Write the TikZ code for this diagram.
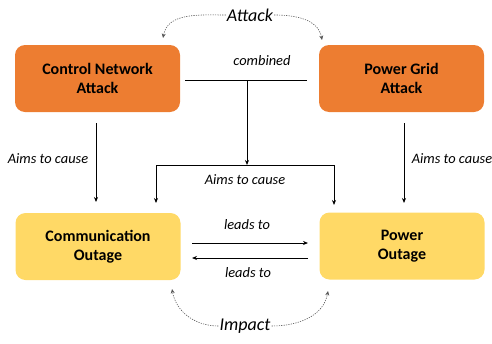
\documentclass[tikz,border=0pt]{standalone}
\usepackage{fontspec}
\setmainfont{Carlito}
\usetikzlibrary{arrows.meta}
\definecolor{attackorange}{HTML}{ED7D31}
\definecolor{outageyellow}{HTML}{FFD966}
\tikzset{
  attackbox/.style={fill=attackorange, rounded corners=10pt, minimum width=165pt, minimum height=67pt,
    align=center, font=\fontsize{16}{19.5}\selectfont\bfseries, inner sep=0pt},
  outagebox/.style={attackbox, fill=outageyellow},
  flow/.style={line width=0.8pt, -{Stealth[length=5pt,width=4pt]}},
  plain/.style={line width=0.8pt},
  lbl/.style={font=\fontsize{14.4}{17}\selectfont\itshape, inner sep=1pt},
  biglbl/.style={font=\fontsize{18}{21}\selectfont\itshape, inner sep=1pt},
  hint/.style={dash pattern=on 1.2pt off 1.2pt, gray!70!black, line width=0.6pt,
    -{Stealth[length=4.5pt,width=4pt]}}
}
\begin{document}
\begin{tikzpicture}[x=1pt,y=-1pt]
  \useasboundingbox (0,0) rectangle (492,343);

  % boxes
  \node[attackbox] (cna) at (97.5,78.5) {Control Network\\Attack};
  \node[attackbox] (pga) at (401.5,78.5) {Power Grid\\Attack};
  \node[outagebox] (co) at (98,246.5) {Communication\\Outage};
  \node[outagebox] (po) at (402,246) {Power\\Outage};

  % labels
  \node[biglbl] (attack) at (250,15) {Attack};
  \node[biglbl] (impact) at (245,326) {Impact};
  \node[lbl] (comb) at (262,61) {combined};
  \node[lbl] (aimsmid) at (245,180) {Aims to cause};
  \node[lbl] (aimsl) at (48,159) {Aims to cause};
  \node[lbl] (aimsr) at (452,159) {Aims to cause};
  \node[lbl] (lt1) at (247,225) {leads to};
  \node[lbl] (lt2) at (248,273) {leads to};

  % joint attack: bar between the attacks, then split to both outages
  \coordinate (barl) at (185,80);
  \coordinate (barr) at (307,80);
  \coordinate (barm) at (247,80);
  \coordinate (splitm) at (247,165);
  \coordinate (splitl) at (156,165);
  \coordinate (splitr) at (334,165);
  \coordinate (endl) at (156,203);
  \coordinate (endr) at (334,205);
  \draw[plain] (barl) -- (barr);
  \draw[flow] (barm) -- (splitm);
  \draw[plain] (splitl) -- (splitr);
  \draw[flow] (splitl) -- (endl);
  \draw[flow] (splitr) -- (endr);

  % individual attacks
  \coordinate (cnaout) at (96,123);
  \coordinate (coin) at (96,202);
  \coordinate (pgaout) at (404,123);
  \coordinate (poin) at (404,203);
  \draw[flow] (cnaout) -- (coin);
  \draw[flow] (pgaout) -- (poin);

  % cascading outages
  \coordinate (cor) at (192,243);
  \coordinate (pol) at (308,243);
  \coordinate (pol2) at (308,258);
  \coordinate (cor2) at (192,258);
  \draw[flow] (cor) -- (pol);
  \draw[flow] (pol2) -- (cor2);

  % dotted hints
  \draw[hint] (attack.west) to[out=180,in=80] (163,38);
  \draw[hint] (attack.east) to[out=0,in=100] (322,40);
  \draw[hint] (impact.west) to[out=180,in=-80] (172,289);
  \draw[hint] (impact.east) to[out=0,in=-100] (328,291);
\end{tikzpicture}
\end{document}
